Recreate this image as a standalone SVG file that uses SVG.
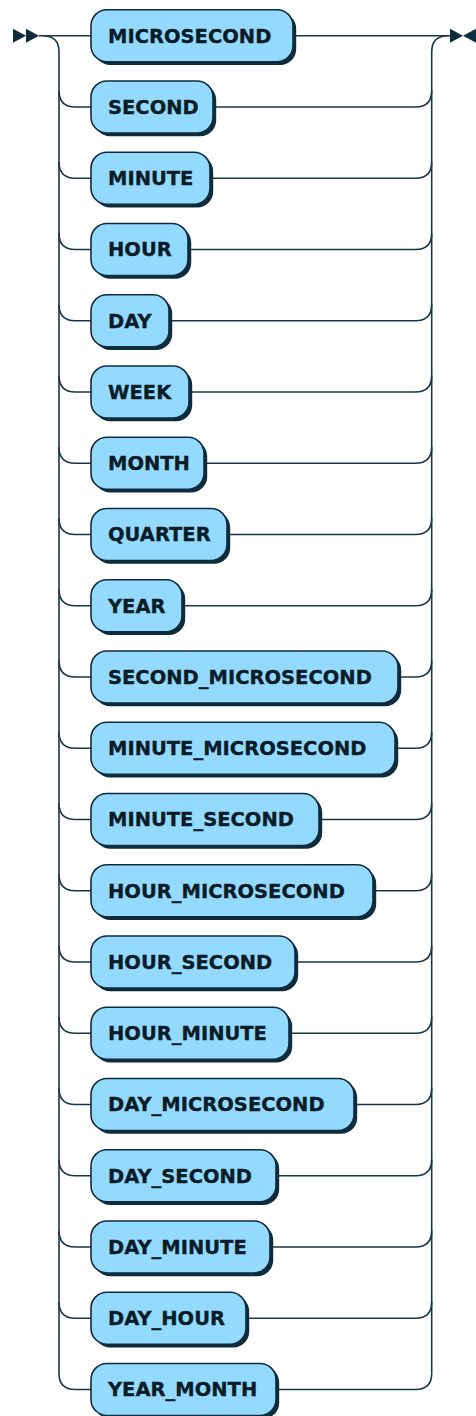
<svg xmlns="http://www.w3.org/2000/svg" width="476" height="1416" viewBox="0 0 476 1416">
<style>
.bg{fill:#ffffff}
.sh{fill:#0E2C3C}
.bx{fill:#94DAFF;stroke:#0E2C3C;stroke-width:1.6}
.tx{font-family:"DejaVu Sans","Liberation Sans",sans-serif;font-weight:bold;font-size:19.5px;fill:#0A1C26;stroke:#0A1C26;stroke-width:0.35}
.ln{fill:none;stroke:#1A3646;stroke-width:1.6}
.mk{fill:#0E2C3C}
</style>
<rect class="bg" x="0" y="0" width="476" height="1416"/>
<g id="connectors">
<polygon class="mk" points="26,35.7 13,28.7 13,42.7"/>
<polygon class="mk" points="39,35.7 26,28.7 26,42.7"/>
<polygon class="mk" points="463,35.7 450,28.7 450,42.7"/>
<polygon class="mk" points="463,35.7 476,28.7 476,42.7"/>
<path class="ln" d="M39 35.7 H91"/>
<path class="ln" d="M293 35.7 H450"/>
<path class="ln" d="M42.8 35.7 q16.2 0 16.2 16.2 V1373.25 q0 16.2 16.2 16.2 H91"/>
<path class="ln" d="M431.7 1373.25 V51.9 q0 -16.2 16.2 -16.2"/>
<path class="ln" d="M59 90.75 q0 16.2 16.2 16.2 H91 M213 106.95 H415.5 q16.2 0 16.2 -16.2"/>
<path class="ln" d="M59 162 q0 16.2 16.2 16.2 H91 M210 178.2 H415.5 q16.2 0 16.2 -16.2"/>
<path class="ln" d="M59 233.25 q0 16.2 16.2 16.2 H91 M188 249.45 H415.5 q16.2 0 16.2 -16.2"/>
<path class="ln" d="M59 304.5 q0 16.2 16.2 16.2 H91 M169 320.7 H415.5 q16.2 0 16.2 -16.2"/>
<path class="ln" d="M59 375.75 q0 16.2 16.2 16.2 H91 M189 391.95 H415.5 q16.2 0 16.2 -16.2"/>
<path class="ln" d="M59 447 q0 16.2 16.2 16.2 H91 M204 463.2 H415.5 q16.2 0 16.2 -16.2"/>
<path class="ln" d="M59 518.25 q0 16.2 16.2 16.2 H91 M227 534.45 H415.5 q16.2 0 16.2 -16.2"/>
<path class="ln" d="M59 589.5 q0 16.2 16.2 16.2 H91 M182 605.7 H415.5 q16.2 0 16.2 -16.2"/>
<path class="ln" d="M59 660.75 q0 16.2 16.2 16.2 H91 M398 676.95 H415.5 q16.2 0 16.2 -16.2"/>
<path class="ln" d="M59 732 q0 16.2 16.2 16.2 H91 M395 748.2 H415.5 q16.2 0 16.2 -16.2"/>
<path class="ln" d="M59 803.25 q0 16.2 16.2 16.2 H91 M319 819.45 H415.5 q16.2 0 16.2 -16.2"/>
<path class="ln" d="M59 874.5 q0 16.2 16.2 16.2 H91 M373 890.7 H415.5 q16.2 0 16.2 -16.2"/>
<path class="ln" d="M59 945.75 q0 16.2 16.2 16.2 H91 M295 961.95 H415.5 q16.2 0 16.2 -16.2"/>
<path class="ln" d="M59 1017 q0 16.2 16.2 16.2 H91 M289 1033.2 H415.5 q16.2 0 16.2 -16.2"/>
<path class="ln" d="M59 1088.25 q0 16.2 16.2 16.2 H91 M354 1104.45 H415.5 q16.2 0 16.2 -16.2"/>
<path class="ln" d="M59 1159.5 q0 16.2 16.2 16.2 H91 M276 1175.7 H415.5 q16.2 0 16.2 -16.2"/>
<path class="ln" d="M59 1230.75 q0 16.2 16.2 16.2 H91 M270 1246.95 H415.5 q16.2 0 16.2 -16.2"/>
<path class="ln" d="M59 1302 q0 16.2 16.2 16.2 H91 M246 1318.2 H415.5 q16.2 0 16.2 -16.2"/>
<path class="ln" d="M276 1389.45 H415.5 q16.2 0 16.2 -16.2"/>
</g>
<g id="n0"><rect class="sh" x="94.2" y="12.9" width="202" height="52" rx="16"/><rect class="bx" x="91" y="9.7" width="202" height="52" rx="16"/><text class="tx" x="108" y="42.7">MICROSECOND</text></g>
<g id="n1"><rect class="sh" x="94.2" y="84.15" width="122" height="52" rx="16"/><rect class="bx" x="91" y="80.95" width="122" height="52" rx="16"/><text class="tx" x="108" y="113.95">SECOND</text></g>
<g id="n2"><rect class="sh" x="94.2" y="155.4" width="119" height="52" rx="16"/><rect class="bx" x="91" y="152.2" width="119" height="52" rx="16"/><text class="tx" x="108" y="185.2">MINUTE</text></g>
<g id="n3"><rect class="sh" x="94.2" y="226.65" width="97" height="52" rx="16"/><rect class="bx" x="91" y="223.45" width="97" height="52" rx="16"/><text class="tx" x="108" y="256.45">HOUR</text></g>
<g id="n4"><rect class="sh" x="94.2" y="297.9" width="78" height="52" rx="16"/><rect class="bx" x="91" y="294.7" width="78" height="52" rx="16"/><text class="tx" x="108" y="327.7">DAY</text></g>
<g id="n5"><rect class="sh" x="94.2" y="369.15" width="98" height="52" rx="16"/><rect class="bx" x="91" y="365.95" width="98" height="52" rx="16"/><text class="tx" x="108" y="398.95">WEEK</text></g>
<g id="n6"><rect class="sh" x="94.2" y="440.4" width="113" height="52" rx="16"/><rect class="bx" x="91" y="437.2" width="113" height="52" rx="16"/><text class="tx" x="108" y="470.2">MONTH</text></g>
<g id="n7"><rect class="sh" x="94.2" y="511.65" width="136" height="52" rx="16"/><rect class="bx" x="91" y="508.45" width="136" height="52" rx="16"/><text class="tx" x="108" y="541.45">QUARTER</text></g>
<g id="n8"><rect class="sh" x="94.2" y="582.9" width="91" height="52" rx="16"/><rect class="bx" x="91" y="579.7" width="91" height="52" rx="16"/><text class="tx" x="108" y="612.7">YEAR</text></g>
<g id="n9"><rect class="sh" x="94.2" y="654.15" width="307" height="52" rx="16"/><rect class="bx" x="91" y="650.95" width="307" height="52" rx="16"/><text class="tx" x="108" y="683.95">SECOND_MICROSECOND</text></g>
<g id="n10"><rect class="sh" x="94.2" y="725.4" width="304" height="52" rx="16"/><rect class="bx" x="91" y="722.2" width="304" height="52" rx="16"/><text class="tx" x="108" y="755.2">MINUTE_MICROSECOND</text></g>
<g id="n11"><rect class="sh" x="94.2" y="796.65" width="228" height="52" rx="16"/><rect class="bx" x="91" y="793.45" width="228" height="52" rx="16"/><text class="tx" x="108" y="826.45">MINUTE_SECOND</text></g>
<g id="n12"><rect class="sh" x="94.2" y="867.9" width="282" height="52" rx="16"/><rect class="bx" x="91" y="864.7" width="282" height="52" rx="16"/><text class="tx" x="108" y="897.7">HOUR_MICROSECOND</text></g>
<g id="n13"><rect class="sh" x="94.2" y="939.15" width="204" height="52" rx="16"/><rect class="bx" x="91" y="935.95" width="204" height="52" rx="16"/><text class="tx" x="108" y="968.95">HOUR_SECOND</text></g>
<g id="n14"><rect class="sh" x="94.2" y="1010.4" width="198" height="52" rx="16"/><rect class="bx" x="91" y="1007.2" width="198" height="52" rx="16"/><text class="tx" x="108" y="1040.2">HOUR_MINUTE</text></g>
<g id="n15"><rect class="sh" x="94.2" y="1081.65" width="263" height="52" rx="16"/><rect class="bx" x="91" y="1078.45" width="263" height="52" rx="16"/><text class="tx" x="108" y="1111.45">DAY_MICROSECOND</text></g>
<g id="n16"><rect class="sh" x="94.2" y="1152.9" width="185" height="52" rx="16"/><rect class="bx" x="91" y="1149.7" width="185" height="52" rx="16"/><text class="tx" x="108" y="1182.7">DAY_SECOND</text></g>
<g id="n17"><rect class="sh" x="94.2" y="1224.15" width="179" height="52" rx="16"/><rect class="bx" x="91" y="1220.95" width="179" height="52" rx="16"/><text class="tx" x="108" y="1253.95">DAY_MINUTE</text></g>
<g id="n18"><rect class="sh" x="94.2" y="1295.4" width="155" height="52" rx="16"/><rect class="bx" x="91" y="1292.2" width="155" height="52" rx="16"/><text class="tx" x="108" y="1325.2">DAY_HOUR</text></g>
<g id="n19"><rect class="sh" x="94.2" y="1366.65" width="185" height="52" rx="16"/><rect class="bx" x="91" y="1363.45" width="185" height="52" rx="16"/><text class="tx" x="108" y="1396.45">YEAR_MONTH</text></g>
</svg>
